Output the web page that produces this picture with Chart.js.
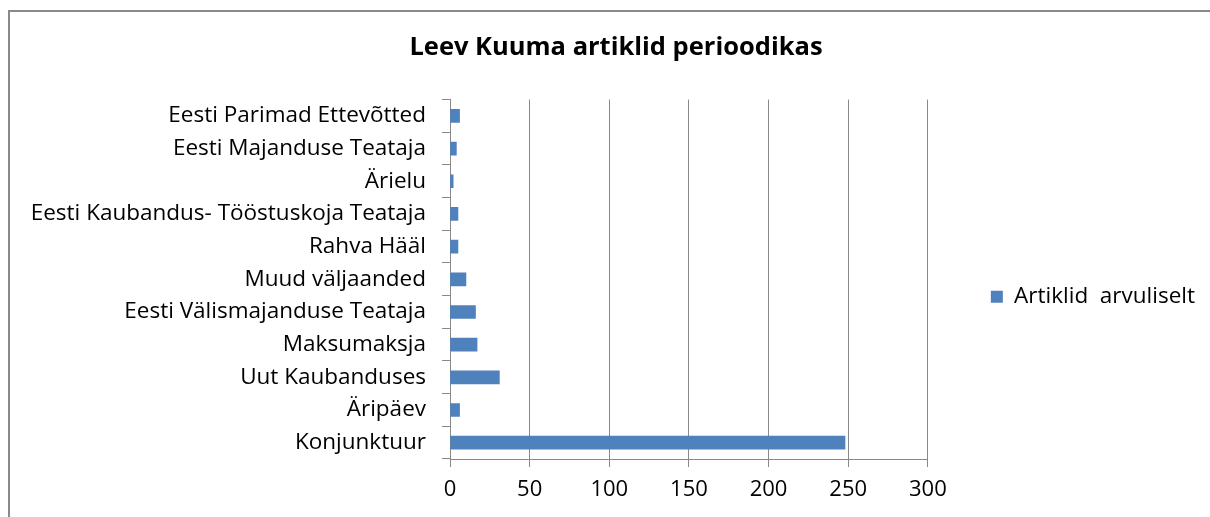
<!DOCTYPE html>
<html lang="et">
<head>
  <meta charset="UTF-8">
  <title>Leev Kuuma artiklid perioodikas</title>
  <script src="https://cdn.jsdelivr.net/npm/chart.js"></script>
  <style>
    html, body {
      margin: 0;
      padding: 0;
      background: #fff;
      overflow: hidden;
    }
    .frame {
      position: absolute;
      left: 8px;
      top: 10px;
      width: 1400px;
      height: 700px;
      border: 2px solid #898989;
    }
    .chart-box {
      position: absolute;
      left: 0;
      top: 0;
      width: 1210px;
      height: 517px;
    }
  </style>
</head>
<body>
  <div class="frame"></div>
  <div class="chart-box">
    <canvas id="articleChart" width="1210" height="517"></canvas>
  </div>

  <script>
    const categories = [
      "Eesti Parimad Ettevõtted",
      "Eesti Majanduse Teataja",
      "Ärielu",
      "Eesti Kaubandus- Tööstuskoja Teataja",
      "Rahva Hääl",
      "Muud väljaanded",
      "Eesti Välismajanduse Teataja",
      "Maksumaksja",
      "Uut Kaubanduses",
      "Äripäev",
      "Konjunktuur"
    ];
    const articleCounts = [6, 4, 2, 5, 5, 10, 16, 17, 31, 6, 248];
    const xTicks = [0, 50, 100, 150, 200, 250, 300];

    const fontFamily = "'Open Sans', 'Noto Sans', sans-serif";
    const gridColor = '#898989';

    // long category names run past the left padding, so don't clip them there
    const unclipLabels = {
      id: 'unclipLabels',
      afterLayout(chart) {
        chart.scales.y.left = 0;
      }
    };

    const ctx = document.getElementById('articleChart').getContext('2d');
    const articleChart = new Chart(ctx, {
      type: 'bar',
      data: {
        labels: categories,
        datasets: [{
          label: 'Artiklid  arvuliselt',
          data: articleCounts,
          backgroundColor: '#4F81BD',
          borderWidth: 0,
          barThickness: 13
        }]
      },
      options: {
        indexAxis: 'y',
        responsive: false,
        animation: false,
        layout: {
          padding: { left: 27, right: 5, top: 0, bottom: 0 }
        },
        plugins: {
          title: {
            display: true,
            text: 'Leev Kuuma artiklid perioodikas',
            color: '#000',
            font: { family: fontFamily, size: 25.5, weight: 'bold' },
            padding: { top: 32, bottom: 37 }
          },
          legend: {
            display: true,
            position: 'right',
            title: {
              display: true,
              text: ' ',
              font: { size: 12 },
              padding: { top: 31, bottom: 31 }
            },
            labels: {
              boxWidth: 12,
              boxHeight: 12,
              padding: 63,
              color: '#000',
              font: { family: fontFamily, size: 22.5 }
            }
          },
          tooltip: { enabled: false }
        },
        scales: {
          x: {
            min: 0,
            max: 300,
            afterBuildTicks: scale => {
              scale.ticks = xTicks.map(v => ({ value: v }));
            },
            afterFit: scale => { scale.height = 58; },
            grid: {
              color: gridColor,
              tickLength: 8,
              drawTicks: true
            },
            border: { color: gridColor },
            ticks: {
              color: '#000',
              padding: 10,
              maxRotation: 0,
              font: { family: fontFamily, size: 22 }
            }
          },
          y: {
            afterFit: scale => { scale.width = 423; },
            grid: {
              offset: true,
              drawOnChartArea: false,
              tickLength: 8,
              color: gridColor
            },
            border: { color: gridColor },
            ticks: {
              color: '#000',
              padding: 16,
              autoSkip: false,
              font: { family: fontFamily, size: 22.5 }
            }
          }
        }
      },
      plugins: [unclipLabels]
    });
  </script>
</body>
</html>
